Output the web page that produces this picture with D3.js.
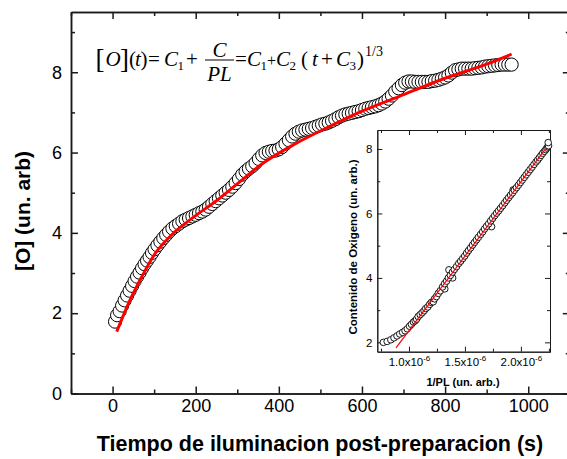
<!DOCTYPE html>
<html>
<head>
<meta charset="utf-8">
<script src="https://cdn.jsdelivr.net/npm/d3@7"></script>
<style>
  body { margin: 0; background: #fff; }
  svg { display: block; }
</style>
</head>
<body>
<svg id="chart" width="567" height="459"></svg>
<script>
// Oxygen content vs. post-preparation illumination time
const timeS = [6, 11, 17, 23, 29, 35, 41, 47, 53, 59, 65, 71, 77, 83, 89, 95, 101, 108, 115, 122,
  129, 136, 144, 152, 160, 168, 176, 184, 192, 200, 208, 216, 224, 232, 240, 248, 256, 264, 272, 280,
  288, 296, 304, 312, 320, 328, 336, 344, 352, 360, 368, 376, 384, 392, 400, 408, 416, 424, 432, 440,
  448, 456, 464, 472, 480, 488, 496, 504, 512, 520, 528, 536, 544, 552, 560, 568, 576, 584, 592, 600,
  608, 616, 624, 632, 640, 648, 656, 664, 672, 680, 688, 696, 704, 712, 720, 728, 736, 744, 752, 760,
  768, 776, 784, 792, 800, 808, 816, 824, 832, 840, 848, 856, 864, 872, 880, 888, 896, 904, 912, 920,
  928, 936, 944, 952, 960];
const oxygen = [1.79, 1.95, 2.05, 2.19, 2.32, 2.44, 2.56, 2.68, 2.80, 2.91, 3.01, 3.12, 3.22, 3.31, 3.40, 3.50, 3.59, 3.69, 3.78, 3.87,
  3.95, 4.03, 4.11, 4.17, 4.23, 4.29, 4.33, 4.37, 4.41, 4.45, 4.49, 4.53, 4.58, 4.65, 4.72, 4.79, 4.86, 4.93, 5.00, 5.07,
  5.15, 5.24, 5.34, 5.45, 5.53, 5.60, 5.66, 5.74, 5.84, 5.93, 5.99, 6.02, 6.04, 6.05, 6.08, 6.14, 6.22, 6.31, 6.40, 6.47,
  6.52, 6.55, 6.57, 6.59, 6.61, 6.64, 6.67, 6.70, 6.72, 6.75, 6.79, 6.83, 6.88, 6.92, 6.95, 6.97, 6.99, 7.01, 7.03, 7.06,
  7.09, 7.11, 7.13, 7.15, 7.18, 7.22, 7.27, 7.34, 7.42, 7.52, 7.60, 7.68, 7.74, 7.77, 7.77, 7.76, 7.76, 7.76, 7.76, 7.76,
  7.78, 7.79, 7.81, 7.84, 7.87, 7.92, 7.99, 8.05, 8.07, 8.09, 8.09, 8.09, 8.09, 8.10, 8.11, 8.12, 8.14, 8.15, 8.16, 8.17,
  8.18, 8.19, 8.19, 8.19, 8.19];

// Fitted curve C1 + C2 (t + C3)^(1/3)
const fitTime = [10, 40, 70, 100, 140, 200, 250, 300, 360, 440, 520, 600, 690, 800, 900, 960];
const fitOxygen = [1.54, 2.28, 2.90, 3.45, 3.93, 4.43, 4.80, 5.22, 5.72, 6.22, 6.64, 7.03, 7.40, 7.85, 8.20, 8.45];

// Inset: oxygen content vs. 1/PL (units of 1e-6)
const insetInvPL = [0.771, 0.805, 0.838, 0.866, 0.893, 0.918, 0.943, 0.965, 0.985, 1.005, 1.022, 1.040, 1.055, 1.068, 1.082, 1.100,
  1.118, 1.135, 1.150, 1.168, 1.185, 1.200, 1.217, 1.228, 1.245, 1.262, 1.280, 1.320, 1.300, 1.318, 1.336, 1.357,
  1.390, 1.352, 1.370, 1.388, 1.405, 1.425, 1.445, 1.462, 1.480, 1.498, 1.515, 1.532, 1.550, 1.568, 1.585, 1.603,
  1.620, 1.640, 1.658, 1.675, 1.738, 1.693, 1.712, 1.730, 1.748, 1.765, 1.783, 1.800, 1.818, 1.836, 1.855, 1.872,
  1.890, 1.908, 1.931, 1.925, 1.942, 1.960, 1.978, 1.995, 2.012, 2.030, 2.047, 2.065, 2.082, 2.100, 2.117, 2.135,
  2.150, 2.165, 2.180, 2.195, 2.210, 2.222, 2.232, 2.240, 2.247, 2.244];
const insetOxygen = [2.00, 2.03, 2.08, 2.14, 2.20, 2.26, 2.31, 2.36, 2.42, 2.50, 2.56, 2.63, 2.67, 2.72, 2.80, 2.86,
  2.92, 2.98, 3.05, 3.10, 3.18, 3.24, 3.26, 3.35, 3.42, 3.52, 3.60, 3.66, 3.72, 3.82, 3.90, 4.25,
  4.00, 4.00, 4.08, 4.18, 4.26, 4.35, 4.45, 4.52, 4.60, 4.68, 4.77, 4.85, 4.93, 5.02, 5.10, 5.18,
  5.26, 5.35, 5.43, 5.52, 5.59, 5.60, 5.68, 5.77, 5.85, 5.93, 6.01, 6.08, 6.16, 6.24, 6.33, 6.41,
  6.49, 6.57, 6.73, 6.64, 6.72, 6.80, 6.88, 6.96, 7.04, 7.12, 7.20, 7.28, 7.36, 7.44, 7.52, 7.60,
  7.66, 7.73, 7.80, 7.87, 7.93, 7.98, 8.03, 8.07, 8.10, 8.20];
const insetFitInvPL = [0.884, 2.214];
const insetFitOxygen = [1.83, 7.97];

// Ticks
const mainXTicks = [0, 200, 400, 600, 800, 1000];
const mainXMinor = [-100, 100, 300, 500, 700, 900, 1100];
const mainYTicks = [0, 2, 4, 6, 8];
const mainYMinor = [1, 3, 5, 7, 9];
const insetXTicks = [1.0, 1.5, 2.0];
const insetXMinor = [0.75, 1.25, 1.75, 2.25];
const insetYTicks = [2, 4, 6, 8];
const insetYMinor = [3, 5, 7];

const SANS = "'Liberation Sans', Arial, sans-serif";
const SERIF = "'Liberation Serif', 'Times New Roman', serif";
const svg = d3.select("#chart");

// ---------- main plot ----------
const x = d3.scaleLinear().domain([-100, 1100]).range([71, 569.8]);
const y = d3.scaleLinear().domain([0, 9.5]).range([393.5, 12]);

function styleAxis(g, sw) {
  g.selectAll("path.domain").attr("stroke", "#1a1a1a").attr("stroke-width", sw);
  g.selectAll(".tick line").attr("stroke", "#1a1a1a").attr("stroke-width", sw);
}

// Boxed frame: labelled bottom/left axes, mirrored ticks on top/right, all pointing inward
function frame(xs, ys, opts) {
  const l = xs.range()[0], r = xs.range()[1], b = ys.range()[0], t = ys.range()[1];
  const blank = () => "";
  const axes = [
    [d3.axisBottom(xs).tickValues(opts.xt).tickSize(-opts.major).tickPadding(opts.xpad).tickFormat(opts.xf).tickSizeOuter(0), `translate(0,${b})`, "x"],
    [d3.axisBottom(xs).tickValues(opts.xm).tickSize(-opts.minor).tickFormat(blank).tickSizeOuter(0), `translate(0,${b})`],
    [d3.axisTop(xs).tickValues(opts.xt).tickSize(-opts.major).tickFormat(blank).tickSizeOuter(0), `translate(0,${t})`],
    [d3.axisTop(xs).tickValues(opts.xm).tickSize(-opts.minor).tickFormat(blank).tickSizeOuter(0), `translate(0,${t})`],
    [d3.axisLeft(ys).tickValues(opts.yt).tickSize(-opts.major).tickPadding(opts.ypad).tickFormat(opts.yf).tickSizeOuter(0), `translate(${l},0)`, "y"],
    [d3.axisLeft(ys).tickValues(opts.ym).tickSize(-opts.minor).tickFormat(blank).tickSizeOuter(0), `translate(${l},0)`],
    [d3.axisRight(ys).tickValues(opts.yt).tickSize(-opts.major).tickFormat(blank).tickSizeOuter(0), `translate(${r},0)`],
    [d3.axisRight(ys).tickValues(opts.ym).tickSize(-opts.minor).tickFormat(blank).tickSizeOuter(0), `translate(${r},0)`]
  ];
  const gs = {};
  axes.forEach(([ax, tr, key]) => {
    const g = opts.parent.append("g").attr("transform", tr).call(ax);
    styleAxis(g, opts.sw);
    g.selectAll("text").attr("fill", "#000").attr("font-family", SANS).attr("font-size", opts.fs);
    if (key) gs[key] = g;
  });
  return gs;
}

const mainG = svg.append("g");
frame(x, y, {parent: mainG, xt: mainXTicks, xm: mainXMinor, yt: mainYTicks, ym: mainYMinor,
  xf: d3.format("d"), yf: d3.format("d"),
  major: 7, minor: 4, sw: 1.5, fs: 18, xpad: 6, ypad: 9});

// data circles
mainG.append("g").selectAll("circle")
  .data(timeS.map((t, i) => [t, oxygen[i]]))
  .join("circle")
  .attr("cx", d => x(d[0])).attr("cy", d => y(d[1])).attr("r", 6.6)
  .attr("fill", "#fff").attr("stroke", "#000").attr("stroke-width", 1);

// fitted curve
mainG.append("path")
  .datum(fitTime.map((t, i) => [t, fitOxygen[i]]))
  .attr("d", d3.line().x(d => x(d[0])).y(d => y(d[1])).curve(d3.curveMonotoneX))
  .attr("fill", "none").attr("stroke", "#ff0000").attr("stroke-width", 3);

// axis titles
svg.append("text").attr("x", 320).attr("y", 451).attr("text-anchor", "middle")
  .attr("font-family", SANS).attr("font-weight", "bold").attr("font-size", 21.5)
  .text("Tiempo de iluminacion post-preparacion (s)");
svg.append("text").attr("transform", "translate(30,211) rotate(-90)").attr("text-anchor", "middle")
  .attr("font-family", SANS).attr("font-weight", "bold").attr("font-size", 21)
  .text("[O] (un. arb)");

// ---------- equation ----------
const eq = svg.append("g").attr("font-family", SERIF).attr("fill", "#000");
const base = 66;
function piece(txt, px, py, opt = {}) {
  eq.append("text").attr("x", px).attr("y", py)
    .attr("font-size", opt.size || 21)
    .attr("font-style", opt.it ? "italic" : "normal")
    .attr("text-anchor", opt.anchor || "start")
    .text(txt);
}
piece("[", 95.5, base + 2, {size: 27});
piece("O", 105.5, base, {it: true});
piece("]", 120, base + 2, {size: 27});
piece("(", 129, base);
piece("t", 135, base, {it: true});
piece(")", 140.5, base);
piece("=", 148, base);
piece("C", 164, base, {it: true});
piece("1", 177.5, base + 4, {size: 13});
piece("+", 186, base);
piece("C", 219.5, base - 9, {it: true, anchor: "middle"});
eq.append("line").attr("x1", 205).attr("x2", 234).attr("y1", base - 6).attr("y2", base - 6)
  .attr("stroke", "#000").attr("stroke-width", 1);
piece("PL", 219.5, base + 15, {it: true, anchor: "middle"});
piece("=", 235, base);
piece("C", 247, base, {it: true});
piece("1", 260.5, base + 4, {size: 13});
piece("+", 267, base, {size: 16});
piece("C", 276, base, {it: true});
piece("2", 289.5, base + 4, {size: 13});
piece("(", 301, base);
piece("t", 312, base, {it: true});
piece("+", 321, base);
piece("C", 336, base, {it: true});
piece("3", 349.5, base + 4, {size: 13});
piece(")", 357, base);
piece("1/3", 365, base - 10, {size: 14});

// ---------- inset ----------
const xi = d3.scaleLinear().domain([0.717, 2.26]).range([377.3, 550]);
const yi = d3.scaleLinear().domain([1.71, 8.59]).range([351.7, 130]);
const insetG = svg.append("g");
insetG.append("rect")
  .attr("x", xi.range()[0]).attr("y", yi.range()[1])
  .attr("width", xi.range()[1] - xi.range()[0]).attr("height", yi.range()[0] - yi.range()[1])
  .attr("fill", "#fff");
const insetAxes = frame(xi, yi, {parent: insetG, xt: insetXTicks, xm: insetXMinor.filter(v => v <= 2.26),
  yt: insetYTicks, ym: insetYMinor, xf: d3.format(".1f"), yf: d3.format("d"),
  major: 5, minor: 3, sw: 1, fs: 11.5, xpad: 6, ypad: 5});

// x tick labels written as a.b x 10^-6
insetAxes.x.selectAll(".tick text").each(function(d) {
  const t = d3.select(this);
  t.text(null);
  t.append("tspan").text(d3.format(".1f")(d) + "x10");
  t.append("tspan").attr("dy", "-5").attr("font-size", 8).text("-6");
});

insetG.append("g").selectAll("circle")
  .data(insetInvPL.map((v, i) => [v, insetOxygen[i]]))
  .join("circle")
  .attr("cx", d => xi(d[0])).attr("cy", d => yi(d[1])).attr("r", 3.3)
  .attr("fill", "#fff").attr("stroke", "#000").attr("stroke-width", 0.9);

insetG.append("path")
  .datum(insetFitInvPL.map((v, i) => [v, insetFitOxygen[i]]))
  .attr("d", d3.line().x(d => xi(d[0])).y(d => yi(d[1])))
  .attr("fill", "none").attr("stroke", "#ff0000").attr("stroke-width", 1.2);

insetG.append("text").attr("x", 463).attr("y", 386).attr("text-anchor", "middle")
  .attr("font-family", SANS).attr("font-weight", "bold").attr("font-size", 11)
  .text("1/PL (un. arb.)");
insetG.append("text").attr("transform", "translate(357,247) rotate(-90)").attr("text-anchor", "middle")
  .attr("font-family", SANS).attr("font-weight", "bold").attr("font-size", 11.5)
  .text("Contenido de Oxigeno (un. arb.)");
</script>
</body>
</html>
